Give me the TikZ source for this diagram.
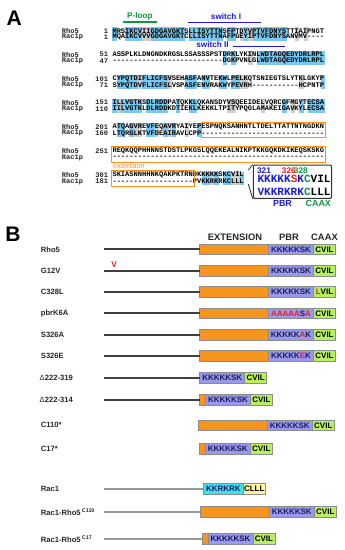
\documentclass[tikz,border=0pt]{standalone}
\usepackage{fontspec}
\setsansfont{Liberation Sans}
\setmonofont{Liberation Mono}
\usepackage{xstring}
\usetikzlibrary{positioning}
\definecolor{identc}{RGB}{120,200,240}
\definecolor{similc}{RGB}{205,205,205}
\definecolor{extc}{RGB}{247,148,30}
\definecolor{pbrc}{RGB}{152,152,236}
\definecolor{caaxc}{RGB}{182,240,92}
\definecolor{racpbrc}{RGB}{62,226,236}
\definecolor{raccaaxc}{RGB}{255,245,150}
\definecolor{ploopc}{RGB}{12,150,64}
\definecolor{switchc}{RGB}{28,28,215}
\definecolor{mutc}{RGB}{232,30,30}
\definecolor{navyc}{RGB}{28,28,92}
\newcommand\mutres[1]{\textcolor{mutc}{#1}}
\newcommand\alnrow[6]{%
  \StrLen{#4}[\alnlen]%
  \foreach \c in {1,...,\alnlen}{%
    \StrChar{#4}{\c}[\resa]\StrChar{#6}{\c}[\resb]%
    \IfStrEq{\resa}{\resb}{%
      \IfStrEq{\resa}{-}{}{\fill[identc] ({112.3+4.25*(\c-1)},#2-3.4) rectangle ++(4.25,13.4);}}{%
      \foreach \grp in {ILVM,FYW,KRH,DE,NQ,ST}{%
        \IfSubStr{\grp}{\resa}{\IfSubStr{\grp}{\resb}{%
          \fill[similc] ({112.3+4.25*(\c-1)},#2-3.4) rectangle ++(4.25,13.4);}{}}{}}}}%
  \node[seqname] (na#1) at (61.7,#2) {Rho5};
  \node[seqnum] (ma#1) at (108.3,#2) {#3};
  \node[seqtxt] (sa#1) at (112.3,#2) {#4};
  \node[seqname] (nb#1) at (61.7,#2+6.6) {Rac1p};
  \node[seqnum] (mb#1) at (108.3,#2+6.6) {#5};
  \node[seqtxt] (sb#1) at (112.3,#2+6.6) {#6};}

\begin{document}
\begin{tikzpicture}[x=0.03cm, y=-0.03cm,
    seqtxt/.style={anchor=west, inner sep=0pt, font=\ttfamily\bfseries\fontsize{6.02}{7}\selectfont},
    seqname/.style={seqtxt, text=black!85},
    seqnum/.style={seqtxt, anchor=east, text=black!85},
    panel/.style={font=\sffamily\bfseries\fontsize{18}{20}\selectfont},
    motif/.style={font=\sffamily\bfseries\fontsize{7}{8}\selectfont},
    motifline/.style={line width=1.3pt},
    extframe/.style={draw=extc, line width=0.8pt},
    zoomframe/.style={draw=black!80, line width=0.9pt, rounded corners=1pt, fill=white,
      minimum width=2.352cm, minimum height=1cm},
    callout/.style={line width=0.7pt, black!80},
    bigseq/.style={anchor=west, inner sep=0pt, font=\ttfamily\bfseries\fontsize{9.45}{10}\selectfont},
    posnum/.style={inner sep=0pt, font=\sffamily\bfseries\fontsize{7}{8}\selectfont},
    lab/.style={anchor=west, inner sep=0pt, font=\sffamily\bfseries\fontsize{6.5}{7}\selectfont, text=black!85},
    hdr/.style={font=\sffamily\bfseries\fontsize{8}{9}\selectfont, text=black!85},
    dom/.style={draw=black!45, line width=0.4pt, outer sep=0pt, inner sep=0pt,
      minimum height=0.32cm, font=\sffamily\bfseries\fontsize{6.8}{7}\selectfont},
    extbox/.style={dom, fill=extc, anchor=west, minimum width=2.07cm},
    extstub/.style={dom, fill=extc, anchor=west, minimum width=0.18cm},
    pbrbox/.style={dom, fill=pbrc, text=navyc, minimum width=1.35cm},
    caaxbox/.style={dom, fill=caaxc, minimum width=0.66cm},
    nterm/.style={line width=1.8pt, black!75},
    racterm/.style={line width=1.8pt, black!40}]
  \useasboundingbox (0,0) rectangle (345,550);
  % panel A
  \node[panel] (pa) at (14.2,18.3) {A};
  \node[motif, text=ploopc] (ploop) at (140,16.5) {P-loop};
  \coordinate (pl1) at (123.3,22); \coordinate (pl2) at (157.3,22);
  \draw[motifline, ploopc] (pl1) -- (pl2);
  \node[motif, text=switchc] (swone) at (226,16.7) {switch I};
  \coordinate (sa1) at (188.3,22.3); \coordinate (sa2) at (260.7,22.3);
  \draw[motifline, switchc] (sa1) -- (sa2);
  \alnrow{1}{30.7}{1}{MRSIKCVIIGDGAVGKTSLLISYTTNSFPTDYVPTVFDNYSTTIAIPNGT}{1}{MQAIKCVVVGDGAVGKTCLLISYTTNAFPGEYIPTVFDNYSANVMV----}
  \node[motif, text=switchc] (swtwo) at (212.5,44.8) {switch II};
  \coordinate (sb2) at (285,46.5);
  \draw[motifline, switchc] (swtwo.east |- sb2) -- (sb2);
  \alnrow{2}{54.5}{51}{ASSPLKLDNGNDKRGSLSSASSSPSTDRKLYKINLWDTAGQEDYDRLRPL}{47}{--------------------------DGKPVNLGLWDTAGQEDYDRLRPL}
  \alnrow{3}{78.8}{101}{CYPQTDIFLICFSVSEHASFANVTEKWLPELKQTSNIEGTSLYTKLGKYP}{71}{SYPQTDVFLICFSLVSPASFENVRAKWYPEVRH-----------HCPNTP}
  \alnrow{4}{102.6}{151}{ILLVGTKSDLRDDPATQKKLQKANSDYVSQEEIDELVQRCGFMGYTECSA}{110}{IILVGTKLDLRDDKDTIEKLKEKKLTPITYPQGLAMAKEIGAVKYLECSA}
  \alnrow{5}{126.8}{201}{ATQAGVREVFEQAVRYAIYEPESPNQKSANHNTLTDELTTATTNTNGDKN}{160}{LTQRGLKTVFDEAIRAVLCPP-----------------------------}
  \alnrow{6}{150.9}{251}{REQKQQPHHNNSTDSTLPKGSLQQEKEALNIKPTKKGQKDKIKEQSKSKG}{}{--------------------------------------------------}
  \alnrow{7}{175}{301}{SKIASNNHHNKQAKPKTRNDKKKKKSKCVIL}{181}{-------------------PVKKRKRKCLLL}
  \draw[extframe] (201,122.4) rectangle (325,137.9);
  \draw[extframe] (111,146.5) rectangle (325,162);
  \draw[extframe] (111,170.6) rectangle (194,186.1);
  \node[anchor=west, inner sep=0pt, text=extc, font=\sffamily\fontsize{6.3}{7}\selectfont] (extlab) at (113,166.3) {extension};
  \coordinate (cltop) at (248.3,170);
  \coordinate (clbot) at (248.3,184);
  \node[zoomframe] (zoombox) at (292.5,181.7) {};
  \draw[callout] (cltop) -- (zoombox.north west);
  \draw[callout] (clbot) -- (zoombox.south west);
  \node[posnum, text=switchc] (p321) at (264,170.3) {321};
  \node[posnum, text=mutc] (p326) at (288.8,170.3) {326};
  \node[posnum, text=ploopc] (p328) at (300.8,170.3) {328};
  \node[bigseq] (insrho) at (257.3,179.3) {\textcolor{switchc}{KKKKK}\textcolor{mutc}{S}\textcolor{switchc}{K}\textcolor{ploopc}{C}VIL};
  \node[bigseq] (insrac) at (257.3,192.3) {\textcolor{switchc}{VKKRKRK}\textcolor{ploopc}{C}LLL};
  \node[motif, text=switchc, font=\sffamily\bfseries\fontsize{7.6}{8}\selectfont] (pbrlab) at (282.5,203.5) {PBR};
  \node[motif, text=ploopc, font=\sffamily\bfseries\fontsize{7.6}{8}\selectfont] (caaxlab) at (318.3,203.5) {CAAX};
  % panel B
  \node[panel] (pb) at (13,234) {B};
  \node[hdr] (hext) at (235,237.7) {EXTENSION};
  \node[hdr] (hpbr) at (289,237.7) {PBR};
  \node[hdr] (hcaax) at (324.5,237.7) {CAAX};
  \foreach \i/\y/\lab/\pbrtxt/\caaxtxt in {
      1/249.3/Rho5/KKKKKSK/CVIL,
      2/270.7/G12V/KKKKKSK/CVIL,
      3/292/C328L/KKKKKSK/{\mutres{L}VIL},
      4/313.3/pbrK6A/{\mutres{AAAAA}S\mutres{A}}/CVIL,
      5/334.7/S326A/{KKKKK\mutres{A}K}/CVIL,
      6/356/S326E/{KKKKK\mutres{E}K}/CVIL}{
    \node[lab] (lab\i) at (40.7,\y) {\lab};
    \coordinate (nt\i) at (104,\y);
    \node[extbox] (ext\i) at (199.5,\y) {};
    \node[pbrbox, right=0pt of ext\i] (pbr\i) {\pbrtxt};
    \node[caaxbox, right=0pt of pbr\i] (caax\i) {\caaxtxt};
    \draw[nterm] (nt\i) -- (ext\i.west);
  }
  \node[motif, text=mutc] (g12v) at (114,265) {V};
  \node[lab] (lab7) at (39.5,377.7) {{\mdseries Δ}222-319};
  \coordinate (nt7) at (104,377.7);
  \node[pbrbox, anchor=west] (pbr7) at (199.7,377.7) {KKKKKSK};
  \node[caaxbox, right=0pt of pbr7] (caax7) {CVIL};
  \draw[nterm] (nt7) -- (pbr7.west);
  \node[lab] (lab8) at (39.5,400) {{\mdseries Δ}222-314};
  \coordinate (nt8) at (104,400);
  \node[extstub] (ext8) at (199.5,400) {};
  \node[pbrbox, right=0pt of ext8] (pbr8) {KKKKKSK};
  \node[caaxbox, right=0pt of pbr8] (caax8) {CVIL};
  \draw[nterm] (nt8) -- (ext8.west);
  \node[lab] (lab9) at (40.7,425.3) {C110*};
  \node[extbox] (ext9) at (198.3,425.3) {};
  \node[pbrbox, right=0pt of ext9] (pbr9) {KKKKKSK};
  \node[caaxbox, right=0pt of pbr9] (caax9) {CVIL};
  \node[lab] (lab10) at (40.7,448.7) {C17*};
  \node[extstub] (ext10) at (199.3,448.7) {};
  \node[pbrbox, right=0pt of ext10] (pbr10) {KKKKKSK};
  \node[caaxbox, right=0pt of pbr10] (caax10) {CVIL};
  \node[lab] (lab11) at (40.7,488.7) {Rac1};
  \coordinate (nt11) at (104.3,488.7);
  \node[dom, anchor=west, fill=racpbrc, text=navyc, minimum width=1.2cm] (pbr11) at (203.3,488.7) {KKRKRK};
  \node[caaxbox, fill=raccaaxc, right=0pt of pbr11] (caax11) {CLLL};
  \draw[racterm] (nt11) -- (pbr11.west);
  \node[lab] (lab12) at (40.7,512) {Rac1-Rho5\,\textsuperscript{C110}};
  \coordinate (nt12) at (104,512);
  \node[extbox] (ext12) at (200.3,512) {};
  \node[pbrbox, right=0pt of ext12] (pbr12) {KKKKKSK};
  \node[caaxbox, right=0pt of pbr12] (caax12) {CVIL};
  \draw[racterm] (nt12) -- (ext12.west);
  \node[lab] (lab13) at (40.7,538.7) {Rac1-Rho5\,\textsuperscript{C17}};
  \coordinate (nt13) at (104,538.7);
  \node[extstub] (ext13) at (202,538.7) {};
  \node[pbrbox, right=0pt of ext13] (pbr13) {KKKKKSK};
  \node[caaxbox, right=0pt of pbr13] (caax13) {CVIL};
  \draw[racterm] (nt13) -- (ext13.west);
\end{tikzpicture}
\end{document}
